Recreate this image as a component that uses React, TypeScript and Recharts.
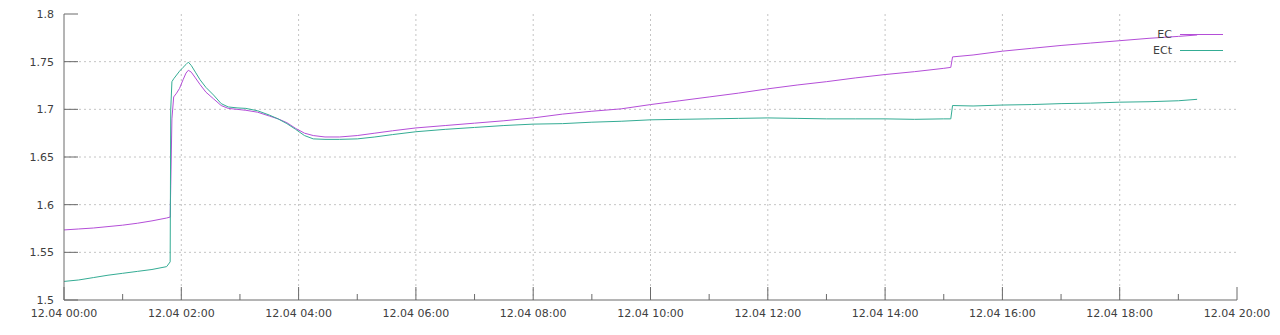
import React from 'react';
import { LineChart, Line, XAxis, YAxis, CartesianGrid } from 'recharts';

const hours = [
  0, 0.25, 0.5, 0.75, 1.0, 1.25, 1.5, 1.75, 1.81, 1.82, 1.84, 1.87, 1.92, 1.97, 2.03, 2.08, 2.12, 2.17,
  2.24, 2.32, 2.42, 2.55, 2.68, 2.8, 2.95, 3.1, 3.3, 3.5, 3.65, 3.8, 3.95, 4.1, 4.25, 4.45, 4.7, 5.0,
  5.3, 5.6, 6.0, 6.5, 7.0, 7.5, 8.0, 8.5, 9.0, 9.5, 10.0, 10.5, 11.0, 11.5, 12.0, 12.5, 13.0, 13.5,
  14.0, 14.5, 15.0, 15.12, 15.15, 15.5, 16.0, 16.5, 17.0, 17.5, 18.0, 18.5, 19.0, 19.32,
];

const ecValues = [
  1.5735, 1.5745, 1.5755, 1.577, 1.5785, 1.5805, 1.583, 1.586, 1.587, 1.62, 1.69, 1.713, 1.717, 1.722, 1.731, 1.738, 1.741, 1.739,
  1.733, 1.726, 1.718, 1.711, 1.704, 1.701, 1.7, 1.699, 1.697, 1.693, 1.69, 1.686, 1.68, 1.675, 1.6725, 1.671, 1.671, 1.6725,
  1.675, 1.6775, 1.6805, 1.683, 1.6855, 1.688, 1.691, 1.695, 1.698, 1.7005, 1.705, 1.709, 1.713, 1.717, 1.7215, 1.7255, 1.729, 1.733,
  1.7365, 1.7395, 1.743, 1.744, 1.755, 1.757, 1.761, 1.764, 1.767, 1.7695, 1.772, 1.7745, 1.7765, 1.778,
];

const ectValues = [
  1.5195, 1.521, 1.5235, 1.526, 1.528, 1.53, 1.532, 1.535, 1.54, 1.7, 1.729, 1.732, 1.736, 1.74, 1.744, 1.747, 1.7495, 1.746,
  1.739, 1.731, 1.723, 1.715, 1.706, 1.7025, 1.7015, 1.701, 1.6985, 1.694, 1.69, 1.685, 1.679, 1.6725, 1.669, 1.6685, 1.6685, 1.669,
  1.671, 1.6735, 1.6765, 1.679, 1.681, 1.683, 1.6845, 1.685, 1.6865, 1.6875, 1.689, 1.6895, 1.69, 1.6905, 1.691, 1.6905, 1.69, 1.69,
  1.69, 1.6895, 1.69, 1.69, 1.704, 1.7035, 1.7045, 1.705, 1.706, 1.7065, 1.7075, 1.708, 1.709, 1.7105,
];

const xTicks = [0, 1, 2, 3, 4, 5, 6, 7, 8, 9, 10, 11, 12, 13, 14, 15, 16, 17, 18, 19, 20];
const gridHours = [2, 4, 6, 8, 10, 12, 14, 16, 18];
const yTicks = [1.5, 1.55, 1.6, 1.65, 1.7, 1.75, 1.8];
const yGrid = [1.55, 1.6, 1.65, 1.7, 1.75];
const datePrefix = '12.04';
const seriesNames = ['EC', 'ECt'];
const seriesColors = ['#b44ed8', '#34ac94'];

const data = hours.map((h, i) => ({ h, EC: ecValues[i], ECt: ectValues[i] }));

const FONT = "'DejaVu Sans', sans-serif";
const TEXT_COLOR = '#404040';
const AXIS_COLOR = '#6a6a6a';

const fmtHour = (h: number) => `${datePrefix} ${String(h).padStart(2, '0')}:00`;

const BottomTick = (props: any) => {
  const { x, y, payload } = props;
  const major = payload.value % 2 === 0;
  return (
    <g>
      <line x1={x} x2={x} y1={y} y2={y - (major ? 13 : 6)} stroke={AXIS_COLOR} />
      {major && (
        <text x={x} y={y + 16.5} textAnchor="middle" fontFamily={FONT} fontSize={11} fill={TEXT_COLOR}>
          {fmtHour(payload.value)}
        </text>
      )}
    </g>
  );
};

const TopTick = (props: any) => {
  const { x, y, payload } = props;
  const major = payload.value % 2 === 0;
  return <line x1={x} x2={x} y1={y} y2={y + (major ? 13 : 6)} stroke={AXIS_COLOR} />;
};

const LeftTick = (props: any) => {
  const { x, y, payload } = props;
  return (
    <g>
      <line x1={x} x2={x + 14} y1={y} y2={y} stroke={AXIS_COLOR} />
      <text x={x - 10} y={y + 4} textAnchor="end" fontFamily={FONT} fontSize={11} fill={TEXT_COLOR}>
        {String(payload.value)}
      </text>
    </g>
  );
};

const RightTick = (props: any) => {
  const { x, y } = props;
  return <line x1={x} x2={x - 14} y1={y} y2={y} stroke={AXIS_COLOR} />;
};

export default function App() {
  return (
    <div style={{ position: 'absolute', left: 0, top: 0, width: 1280, height: 335, background: '#fff' }}>
      <LineChart width={1280} height={335} data={data} margin={{ top: 14, right: 43, bottom: 0, left: 0 }}>
        <CartesianGrid
          xAxisId="bottom"
          yAxisId="left"
          verticalValues={gridHours}
          horizontalValues={yGrid}
          stroke="#c4c4c4"
          strokeDasharray="2 3"
        />
        <XAxis
          xAxisId="bottom"
          dataKey="h"
          type="number"
          domain={[0, 20]}
          ticks={xTicks}
          interval={0}
          orientation="bottom"
          height={35}
          tickSize={0}
          tickMargin={0}
          tickLine={false}
          axisLine={{ stroke: AXIS_COLOR }}
          tick={<BottomTick />}
          allowDataOverflow
        />
        <XAxis
          xAxisId="top"
          dataKey="h"
          type="number"
          domain={[0, 20]}
          ticks={xTicks}
          interval={0}
          orientation="top"
          height={0}
          tickSize={0}
          tickMargin={0}
          tickLine={false}
          axisLine={{ stroke: AXIS_COLOR }}
          tick={<TopTick />}
          allowDataOverflow
        />
        <YAxis
          yAxisId="left"
          type="number"
          domain={[1.5, 1.8]}
          ticks={yTicks}
          interval={0}
          orientation="left"
          width={64}
          tickSize={0}
          tickMargin={0}
          tickLine={false}
          axisLine={{ stroke: AXIS_COLOR }}
          tick={<LeftTick />}
          allowDataOverflow
        />
        <YAxis
          yAxisId="right"
          type="number"
          domain={[1.5, 1.8]}
          ticks={yTicks}
          interval={0}
          orientation="right"
          width={0}
          tickSize={0}
          tickMargin={0}
          tickLine={false}
          axisLine={{ stroke: AXIS_COLOR }}
          tick={<RightTick />}
          allowDataOverflow
        />
        {seriesNames.map((name, i) => (
          <Line
            key={name}
            xAxisId="bottom"
            yAxisId="left"
            type="linear"
            dataKey={name}
            stroke={seriesColors[i]}
            strokeWidth={1}
            dot={false}
            isAnimationActive={false}
          />
        ))}
      </LineChart>
      <div style={{ position: 'absolute', right: 57, top: 26, fontFamily: FONT, fontSize: 11, color: TEXT_COLOR }}>
        {seriesNames.map((name, i) => (
          <div key={name} style={{ display: 'flex', alignItems: 'center', justifyContent: 'flex-end', height: 16.4 }}>
            <span>{name}</span>
            <svg width={43} height={3} style={{ marginLeft: 8, display: 'block' }}>
              <line x1={0} x2={43} y1={1.5} y2={1.5} stroke={seriesColors[i]} strokeWidth={1} />
            </svg>
          </div>
        ))}
      </div>
    </div>
  );
}
